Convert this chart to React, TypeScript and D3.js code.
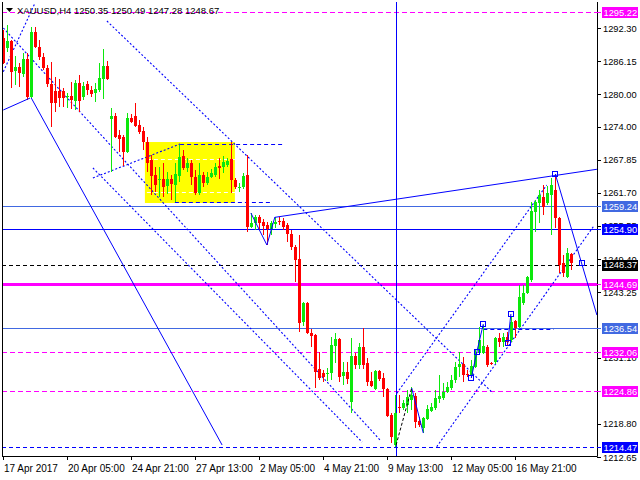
import React from 'react';
import * as d3 from 'd3';

// ---- candle data (XAUUSD H4) ----
const opens = [1290.44,1288.59,1289.89,1284.32,1285.06,1283.76,1286.55,1279.49,1291.56,1288.77,1286.92,1284.87,1281.90,1280.60,1280.60,1280.60,1279.49,1279.68,1278.75,1282.09,1279.49,1281.90,1280.79,1280.23,1280.79,1282.83,1285.25,1275.41,1275.96,1272.43,1272.06,1269.28,1275.59,1275.96,1274.29,1273.18,1271.13,1267.79,1265.01,1264.08,1264.26,1262.97,1264.26,1263.15,1264.82,1268.54,1266.31,1267.24,1264.64,1261.67,1265.01,1263.52,1264.64,1265.01,1266.68,1266.49,1266.86,1267.98,1264.08,1262.69,1262.78,1265.01,1255.35,1256.10,1257.21,1256.28,1255.72,1254.98,1255.91,1256.47,1256.47,1255.72,1254.05,1251.64,1249.41,1237.71,1241.24,1235.67,1235.30,1228.99,1228.24,1228.06,1228.24,1233.26,1234.56,1227.69,1228.43,1222.86,1231.40,1229.73,1233.07,1230.10,1226.76,1225.27,1228.62,1227.32,1225.27,1220.45,1214.88,1221.93,1221.75,1222.30,1223.23,1223.98,1219.33,1218.03,1219.70,1221.19,1221.75,1223.42,1223.60,1224.72,1225.46,1226.95,1229.36,1229.92,1228.06,1227.87,1229.36,1231.96,1231.96,1233.07,1230.10,1230.29,1234.74,1234.00,1234.93,1234.37,1237.90,1236.79,1241.24,1243.10,1245.51,1258.14,1259.81,1260.92,1259.81,1261.29,1262.22,1257.02,1248.67,1246.07,1250.35];
const highs = [1291.93,1292.86,1290.07,1287.10,1285.80,1287.66,1287.66,1292.49,1292.49,1290.07,1287.66,1285.43,1285.99,1283.20,1282.83,1281.16,1280.23,1282.28,1282.65,1283.57,1282.28,1282.46,1281.53,1282.09,1285.80,1288.40,1286.17,1277.45,1276.52,1273.36,1272.43,1276.52,1276.33,1278.38,1275.22,1273.92,1272.06,1268.72,1266.49,1266.49,1267.24,1265.56,1265.01,1267.24,1270.58,1269.65,1268.16,1267.79,1265.94,1267.24,1265.56,1265.56,1266.12,1267.24,1268.16,1268.54,1268.16,1271.13,1264.45,1263.52,1265.38,1268.72,1257.95,1257.58,1257.58,1256.84,1256.28,1256.47,1257.21,1257.21,1257.02,1256.10,1254.80,1252.01,1253.87,1241.43,1241.43,1236.41,1235.49,1232.14,1228.80,1229.17,1234.93,1235.67,1234.74,1230.29,1230.29,1234.74,1231.96,1233.81,1236.60,1231.03,1228.43,1228.80,1228.80,1228.24,1225.46,1220.82,1224.16,1224.16,1223.23,1225.09,1225.65,1224.53,1220.08,1220.08,1222.30,1222.67,1225.09,1227.87,1226.39,1226.57,1227.87,1230.29,1232.14,1231.22,1228.80,1230.66,1232.50,1236.79,1237.16,1233.44,1230.29,1234.93,1235.67,1235.67,1235.86,1238.64,1238.09,1244.58,1244.58,1246.26,1259.99,1260.37,1262.22,1263.15,1262.97,1264.45,1265.19,1257.21,1250.15,1251.45,1250.49];
const lows = [1285.62,1287.85,1281.16,1281.72,1281.35,1283.20,1278.93,1279.30,1288.59,1286.36,1284.50,1281.35,1273.92,1276.70,1277.63,1277.63,1277.45,1277.26,1277.08,1276.70,1278.93,1279.86,1279.49,1278.56,1280.42,1279.12,1282.65,1265.56,1271.88,1269.28,1266.68,1269.09,1274.66,1273.92,1272.62,1269.65,1265.56,1261.29,1261.85,1260.92,1260.92,1261.48,1260.37,1259.99,1263.71,1265.94,1265.56,1263.15,1261.29,1261.29,1262.78,1263.15,1264.45,1264.64,1264.26,1265.38,1266.49,1261.67,1262.41,1261.85,1262.41,1254.42,1255.17,1254.80,1254.80,1253.87,1252.01,1253.87,1255.17,1255.72,1254.80,1252.57,1251.08,1245.14,1235.86,1236.97,1235.49,1233.07,1225.46,1226.95,1226.57,1226.76,1226.95,1230.10,1226.57,1226.02,1226.20,1220.82,1228.99,1228.99,1228.99,1225.83,1225.65,1225.09,1226.76,1223.79,1220.08,1215.20,1214.47,1220.82,1221.38,1220.82,1221.38,1218.03,1218.22,1217.10,1219.52,1221.00,1221.38,1222.67,1223.23,1224.53,1225.09,1226.39,1227.50,1226.57,1227.50,1227.32,1229.17,1231.59,1231.77,1229.36,1229.73,1229.92,1233.07,1233.07,1233.44,1234.00,1234.74,1236.60,1240.87,1242.91,1245.14,1254.42,1256.10,1257.58,1259.44,1253.87,1255.17,1246.81,1246.07,1245.88,1247.28];
const closes = [1285.80,1289.89,1284.13,1285.06,1283.95,1286.55,1279.49,1291.56,1288.77,1286.92,1284.87,1281.90,1278.38,1278.38,1279.30,1279.30,1279.68,1278.93,1282.09,1278.75,1281.53,1280.79,1280.05,1280.98,1283.02,1285.25,1282.83,1275.96,1272.06,1271.69,1269.28,1275.59,1274.85,1274.11,1272.99,1271.13,1267.24,1264.82,1263.15,1264.26,1262.78,1264.26,1263.34,1265.19,1268.35,1266.31,1267.24,1264.64,1261.67,1265.01,1263.52,1264.64,1265.38,1266.49,1266.31,1267.42,1267.61,1264.08,1262.78,1262.78,1264.82,1255.35,1256.10,1257.21,1256.10,1255.54,1254.98,1256.10,1256.28,1256.28,1255.35,1254.05,1251.64,1249.23,1237.53,1241.24,1235.67,1235.11,1228.43,1227.32,1227.50,1228.24,1233.44,1234.56,1227.50,1228.43,1227.13,1231.40,1229.73,1233.07,1229.73,1226.57,1225.83,1228.62,1227.13,1225.27,1220.26,1216.36,1220.82,1221.75,1222.67,1223.79,1224.16,1219.15,1218.59,1219.89,1221.56,1221.93,1223.60,1223.98,1224.72,1225.65,1226.95,1229.36,1229.92,1227.87,1227.87,1229.55,1232.14,1234.37,1233.26,1229.73,1229.92,1234.74,1234.00,1234.93,1234.00,1237.71,1236.60,1242.36,1243.10,1246.07,1258.32,1259.99,1261.29,1259.07,1261.67,1263.15,1257.02,1248.30,1246.81,1250.53,1248.67];

// price-scale tick labels (those not fully hidden behind level boxes)
const priceTicks = [1292.30,1286.15,1280.00,1274.00,1267.85,1261.70,1255.55,1249.40,1243.25,1231.10,1218.80,1212.65];
const timeLabels = ['17 Apr 2017','20 Apr 05:00','24 Apr 21:00','27 Apr 13:00','2 May 05:00','4 May 21:00','9 May 13:00','12 May 05:00','16 May 21:00'];
const timeLabelBars = [0,16,32,48,64,80,96,112,128];

// horizontal levels
const levelPrices = [1295.22,1259.24,1254.90,1248.37,1244.69,1236.54,1232.06,1224.86,1214.47];
const levelColors = ['#FF00FF','#4169E1','#0000FF','#000000','#FF00FF','#4169E1','#FF00FF','#FF00FF','#0000FF'];
const levelDash = ['5,3','','','4,3','','','5,3','5,3','4,3'];
const levelWidth = [1,1,1,1,3,1,1,1,1];

// trend objects: [bar1, price1, bar2, price2]
const solidLines = [
  [0,1277.08,6.7,1279.30],
  [7,1279.30,54.7,1214.88],
  [61.9,1257.95,65.9,1252.01],
  [65.9,1252.01,67.9,1257.21],
  [67.9,1257.15,148.4,1266.07],
  [102.1,1225.46,105,1217.10],
  [117,1227.32,118.4,1232.20],
  [118.4,1232.20,120,1237.34],
  [126.1,1233.76,126.9,1239.20],
  [138,1265.19,148.4,1239.00],
];
const dottedLines = [
  [0,1284.19,7.9,1296.89],
  [25.9,1293.60,122.4,1224.53],
  [0,1292.30,94.2,1215.80],
  [22.4,1266.31,89.7,1215.43],
  [22.4,1264.45,44.2,1270.76],
  [98.35,1224.47,135.85,1263.15],
  [108.35,1214.56,147.5,1255.40],
];
const blackDotted = [[98.2,1214.88,102.1,1225.46]];
const dashedSegs = [ // bar1, bar2, price
  [44.2,70.4,1270.76],
  [42.9,67.2,1259.99],
  [120,137.6,1236.41],
];
const rectBox = [35.9,57.9,1271.13,1259.81];
const whiteDash = [[35.9,57.9,1267.98],[35.9,57.9,1261.85]];
const squares = [[117,1227.32],[118.4,1232.20],[120,1237.34],[126.1,1233.76],[126.9,1239.20],[138,1265.19],[144.6,1248.60]];

const W = 640, H = 480;
const PL = 2, PR = 597, PT = 2, PB = 456;

export default function App() {
  const y = d3.scaleLinear().domain([1212.65, 1292.30]).range([457, 28]);
  const x = d3.scaleLinear().domain([0, 142]).range([3.3, 571.3]);
  const font = 'Tahoma, "Liberation Sans", Arial, sans-serif';
  const bull = '#0CE80C', bear = '#FF0000';
  const ry = (p: number) => Math.round(y(p)) + 0.5;

  const candles = opens.map((o, i) => {
    const c = closes[i];
    const cx = Math.round(x(i));
    const col = c >= o ? bull : bear;
    const top = Math.round(y(Math.max(o, c))), bot = Math.round(y(Math.min(o, c)));
    const hgt = Math.max(1, bot - top);
    return (
      <g key={i}>
        <line x1={cx + 0.5} x2={cx + 0.5} y1={Math.round(y(highs[i]))} y2={Math.round(y(lows[i]))} stroke={col} strokeWidth={1} />
        <rect x={cx - 1} y={top} width={3} height={hgt} fill={col} />
      </g>
    );
  });

  return (
    <svg width={W} height={H} style={{ position: 'absolute', left: 0, top: 0, background: '#fff' }}>
      <defs>
        <clipPath id="plot"><rect x={PL} y={PT} width={PR - PL} height={PB - PT} /></clipPath>
      </defs>
      <rect x={0} y={0} width={W} height={H} fill="#fff" />
      <g clipPath="url(#plot)">
        <rect x={x(rectBox[0]) - 2} y={y(rectBox[2])} width={x(rectBox[1]) - x(rectBox[0]) + 2} height={y(rectBox[3]) - y(rectBox[2])} fill="#FFFF00" />
        {whiteDash.map((d, i) => (
          <line key={'w' + i} x1={x(d[0])} x2={x(d[1])} y1={ry(d[2])} y2={ry(d[2])} stroke="#fff" strokeDasharray="4,3" />
        ))}
        {levelPrices.map((p, i) => (
          <line key={'l' + i} x1={PL} x2={PR} y1={ry(p)} y2={ry(p)} stroke={levelColors[i]} strokeWidth={levelWidth[i]} strokeDasharray={levelDash[i] || undefined} />
        ))}
        <line x1={Math.round(x(98.1)) + 0.5} x2={Math.round(x(98.1)) + 0.5} y1={PT} y2={PB} stroke="#0000FF" />
        {dottedLines.map((d, i) => (
          <line key={'d' + i} x1={x(d[0])} y1={y(d[1])} x2={x(d[2])} y2={y(d[3])} stroke="#0000FF" strokeWidth={1.1} strokeDasharray="2,2" />
        ))}
        {dashedSegs.map((d, i) => (
          <line key={'s' + i} x1={x(d[0])} x2={x(d[1])} y1={ry(d[2])} y2={ry(d[2])} stroke="#0000FF" strokeDasharray="4,3" />
        ))}
        {candles}
        {solidLines.map((d, i) => (
          <line key={'t' + i} x1={x(d[0])} y1={y(d[1])} x2={x(d[2])} y2={y(d[3])} stroke="#0000FF" strokeWidth={1} />
        ))}
        {blackDotted.map((d, i) => (
          <line key={'b' + i} x1={x(d[0])} y1={y(d[1])} x2={x(d[2])} y2={y(d[3])} stroke="#000" strokeDasharray="3,2" />
        ))}
        {squares.map((s, i) => (
          <rect key={'q' + i} x={Math.round(x(s[0])) - 2.5} y={Math.round(y(s[1])) - 2.5} width={5} height={5} fill="none" stroke="#0000FF" />
        ))}
      </g>
      {/* frame */}
      <line x1={PL + 0.5} x2={PL + 0.5} y1={PT} y2={PB + 0.5} stroke="#000" />
      <line x1={PL} x2={PR + 0.5} y1={PB + 0.5} y2={PB + 0.5} stroke="#000" />
      <line x1={PR + 0.5} x2={PR + 0.5} y1={PT} y2={PB + 0.5} stroke="#000" />
      {/* header */}
      <path d="M6,8 L13,8 L9.5,12 Z" fill="#000" />
      <text x={17} y={14} fontFamily={font} fontSize={9.5} fill="#000">XAUUSD,H4  1250.35 1250.49 1247.28 1248.67</text>
      {/* price axis */}
      {priceTicks.map((p, i) => (
        <g key={'pt' + i}>
          <line x1={PR} x2={PR + 4} y1={ry(p)} y2={ry(p)} stroke="#000" />
          <text x={603} y={y(p) + 3.5} fontFamily={font} fontSize={9.3} fill="#000">{p.toFixed(2)}</text>
        </g>
      ))}
      {levelPrices.map((p, i) => (
        <g key={'lb' + i}>
          <line x1={PR} x2={PR + 4} y1={ry(p)} y2={ry(p)} stroke={levelColors[i]} />
          <rect x={602} y={Math.round(y(p)) - 5} width={36} height={11} fill={levelColors[i]} />
          <text x={603.5} y={y(p) + 3.5} fontFamily={font} fontSize={9.3} fill="#fff">{p.toFixed(2)}</text>
        </g>
      ))}
      {/* time axis */}
      {timeLabels.map((t, i) => {
        const tx = Math.round(x(timeLabelBars[i]));
        return (
          <g key={'tl' + i}>
            <line x1={tx + 0.5} x2={tx + 0.5} y1={PB} y2={PB + 4} stroke="#000" />
            <text x={tx + 1} y={472} fontFamily={font} fontSize={10} fill="#000">{t}</text>
          </g>
        );
      })}
    </svg>
  );
}
